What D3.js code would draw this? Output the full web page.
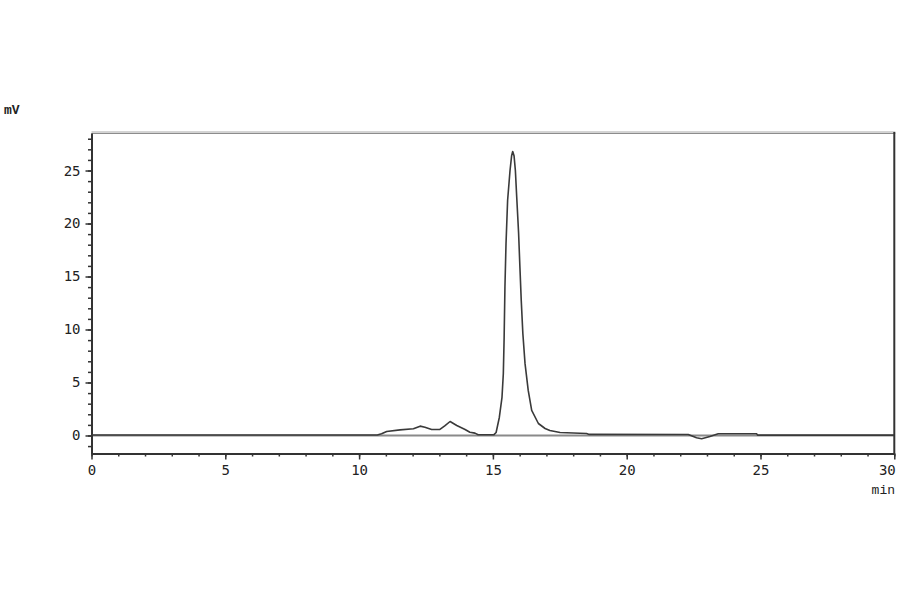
<!DOCTYPE html>
<html>
<head>
<meta charset="utf-8">
<script src="https://cdn.jsdelivr.net/npm/d3@7"></script>
<style>
  body { margin: 0; background: #fff; }
  svg { display: block; }
</style>
</head>
<body>
<svg id="chart" width="900" height="594"></svg>
<script>
// Chromatogram trace (min, mV)
const retentionTimes = [
  0, 10.68, 10.84, 11.03, 11.53, 12.03, 12.28, 12.46, 12.71, 13.02, 13.2, 13.4,
  13.65, 13.96, 14.14, 14.33, 14.45, 15.04, 15.12, 15.24, 15.34, 15.39, 15.42,
  15.45, 15.49, 15.55, 15.64, 15.7, 15.74, 15.79, 15.84, 15.89, 15.96, 16.01,
  16.06, 16.12, 16.2, 16.32, 16.45, 16.7, 16.95, 17.13, 17.51, 18.5, 18.6,
  22.3, 22.61, 22.8, 23.11, 23.42, 24.86, 24.89, 30
];
const signalMv = [
  0.05, 0.05, 0.16, 0.38, 0.53, 0.63, 0.88, 0.78, 0.57, 0.57, 0.9, 1.32,
  0.94, 0.57, 0.31, 0.22, 0.07, 0.08, 0.28, 1.7, 3.6, 5.85, 9.25,
  14.0, 18.1, 22.2, 25.0, 26.4, 26.8, 26.4, 25.0, 22.5, 19.1, 15.85,
  12.7, 9.6, 6.8, 4.25, 2.36, 1.13, 0.66, 0.47, 0.28, 0.19, 0.1,
  0.09, -0.22, -0.31, -0.09, 0.16, 0.16, 0.03, 0.03
];
const xMajorTicks = [0, 5, 10, 15, 20, 25, 30];
const yMajorTicks = [0, 5, 10, 15, 20, 25];

const svg = d3.select("#chart");
const plotLeft = 91.5, plotRight = 894.3, plotTop = 133, plotBottom = 453.5;
const font = "'DejaVu Sans Mono', monospace";

const x = d3.scaleLinear().domain([0, 30]).range([plotLeft, plotRight]);
const y = d3.scaleLinear().domain([-1.7, 28.54]).range([plotBottom, plotTop]);

// zero baseline
svg.append("line")
  .attr("x1", plotLeft).attr("x2", plotRight)
  .attr("y1", y(0)).attr("y2", y(0))
  .attr("stroke", "#8a8a8a")
  .attr("stroke-width", 2);

// frame: top (gray, double) and right (dark)
svg.append("line")
  .attr("x1", plotLeft).attr("x2", plotRight + 1)
  .attr("y1", plotTop - 1).attr("y2", plotTop - 1)
  .attr("stroke", "#a8a8a8").attr("stroke-width", 1);
svg.append("line")
  .attr("x1", plotLeft).attr("x2", plotRight + 1)
  .attr("y1", plotTop + 0.5).attr("y2", plotTop + 0.5)
  .attr("stroke", "#8c8c8c").attr("stroke-width", 1);
svg.append("line")
  .attr("x1", plotRight).attr("x2", plotRight)
  .attr("y1", plotTop - 1).attr("y2", plotBottom)
  .attr("stroke", "#333").attr("stroke-width", 2);

// minor ticks
svg.append("g")
  .attr("transform", `translate(0,${plotBottom})`)
  .call(d3.axisBottom(x).tickValues(d3.range(0, 31)).tickSize(3).tickFormat(""))
  .call(g => g.select(".domain").remove())
  .selectAll("line").attr("stroke", "#333").attr("stroke-width", 1.5);
svg.append("g")
  .attr("transform", `translate(${plotLeft},0)`)
  .call(d3.axisLeft(y).tickValues(d3.range(-1, 29)).tickSize(3.5).tickFormat(""))
  .call(g => g.select(".domain").remove())
  .selectAll("line").attr("stroke", "#333").attr("stroke-width", 1.5);

// major ticks and labels
const xAxis = svg.append("g")
  .attr("transform", `translate(0,${plotBottom})`)
  .call(d3.axisBottom(x).tickValues(xMajorTicks).tickSize(6).tickSizeOuter(0).tickPadding(6));
const yAxis = svg.append("g")
  .attr("transform", `translate(${plotLeft},0)`)
  .call(d3.axisLeft(y).tickValues(yMajorTicks).tickSize(6).tickSizeOuter(0).tickPadding(5));

[xAxis, yAxis].forEach(g => {
  g.select(".domain").attr("stroke", "#333").attr("stroke-width", 2);
  g.selectAll(".tick line").attr("stroke", "#333").attr("stroke-width", 1.5);
  g.selectAll("text")
    .attr("font-family", font)
    .attr("font-size", "14px")
    .attr("fill", "#222");
});

// last x label sits left of its tick so it stays inside the page
xAxis.selectAll(".tick text")
  .filter(d => d === 30)
  .attr("text-anchor", "end")
  .attr("dx", "1");

// trace
const line = d3.line()
  .x((d, i) => x(retentionTimes[i]))
  .y(d => y(d));

svg.append("path")
  .attr("d", line(signalMv))
  .attr("fill", "none")
  .attr("stroke", "#3a3a3a")
  .attr("stroke-width", 1.6)
  .attr("stroke-linejoin", "round");

// axis titles
svg.append("text")
  .attr("x", 4).attr("y", 114)
  .attr("font-family", "'Liberation Mono', monospace")
  .attr("font-size", "13px")
  .attr("font-weight", "bold")
  .attr("fill", "#222")
  .text("mV");

svg.append("text")
  .attr("x", 895).attr("y", 494)
  .attr("text-anchor", "end")
  .attr("font-family", "'Liberation Mono', monospace")
  .attr("font-size", "13px")
  .attr("fill", "#222")
  .text("min");
</script>
</body>
</html>
